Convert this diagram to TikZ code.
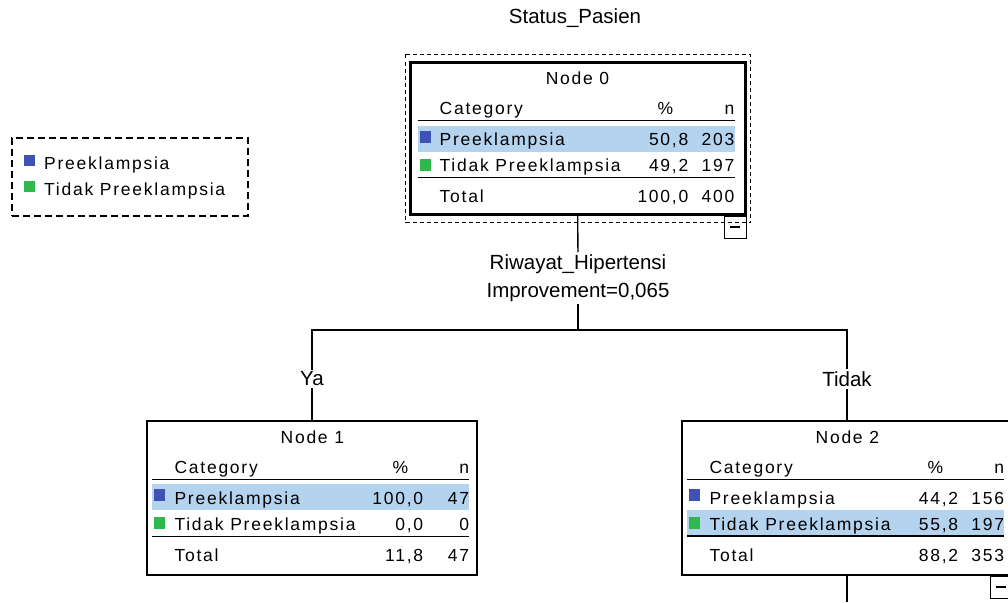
\documentclass[tikz,border=0pt]{standalone}
\usepackage{fontspec}
\setmainfont{Liberation Sans}
\newfontfamily\tabfont[LetterSpace=10]{Liberation Sans}
\usetikzlibrary{positioning}

\definecolor{preblue}{RGB}{63,81,181}
\definecolor{pregreen}{RGB}{45,185,75}
\definecolor{rowhl}{RGB}{180,211,238}

% one category table inside a tree box
\newcommand{\cattable}[9]{%
  \begin{scope}[shift={(#1.north west)}]
    \ifnum#9=1 \fill[rowhl] (6,64) rectangle (323,90);
    \else \fill[rowhl] (6,90) rectangle (323,116); \fi
    \node[celltext, anchor=base] (#1-title) at (166,23) {#2};
    \node[celltext, anchor=base west] (#1-cat) at (28,53) {Category};
    \node[celltext, anchor=base] (#1-pcthead) at (254,53) {\%};
    \node[celltext, anchor=base east] (#1-nhead) at (323,53) {n};
    \draw[rule] (6,59) -- (323,59);
    \fill[preblue] (8,69) rectangle (19,81);
    \node[celltext, anchor=base west] (#1-r1) at (28,84) {Preeklampsia};
    \node[celltext, anchor=base east] (#1-r1p) at (277,84) {#3};
    \node[celltext, anchor=base east] (#1-r1n) at (323,84) {#4};
    \fill[pregreen] (8,97) rectangle (19,109);
    \node[celltext, anchor=base west] (#1-r2) at (28,110) {Tidak Preeklampsia};
    \node[celltext, anchor=base east] (#1-r2p) at (277,110) {#5};
    \node[celltext, anchor=base east] (#1-r2n) at (323,110) {#6};
    \draw[rule] (6,116) -- (323,116);
    \node[celltext, anchor=base west] (#1-tot) at (28,141) {Total};
    \node[celltext, anchor=base east] (#1-totp) at (277,141) {#7};
    \node[celltext, anchor=base east] (#1-totn) at (323,141) {#8};
  \end{scope}}

\begin{document}
\begin{tikzpicture}[
    x=1pt, y=-1pt,
    treebox/.style={rectangle, draw, line width=1.3pt, minimum width=330pt, minimum height=154pt, inner sep=0pt},
    celltext/.style={inner sep=0pt, font=\tabfont\fontsize{17.5}{20}\selectfont},
    plaintext/.style={inner sep=2pt, font=\fontsize{20.5}{28}\selectfont},
    foldbox/.style={rectangle, draw, line width=1pt, minimum size=22pt, inner sep=0pt},
    rule/.style={line width=1.3pt},
    edge/.style={line width=1.3pt}
]
\useasboundingbox (0,0) rectangle (1008,602);
\clip (0,0) rectangle (1008,602);

% Title
\node[plaintext] (title) at (575,18) {Status\_Pasien};

% Legend
\node[rectangle, draw, line width=1.2pt, dash pattern=on 7pt off 4pt, minimum width=236pt, minimum height=78pt] (legend) at (130,177) {};
\fill[preblue] (24,155) rectangle (35,166);
\node[celltext, anchor=base west] (leg1) at (44,169) {Preeklampsia};
\fill[pregreen] (24,181) rectangle (35,192);
\node[celltext, anchor=base west] (leg2) at (44,195) {Tidak Preeklampsia};

% Root node
\node[treebox, line width=3pt, minimum width=335pt, minimum height=152pt] (node0) at (577.5,138) {};
\draw[line width=1.3pt, dash pattern=on 4pt off 3pt] ([shift={(-3,-6)}]node0.north west) rectangle ([shift={(4,7)}]node0.south east);
\node[foldbox, anchor=north east] (fold0) at (node0.south east) {\rule[0pt]{10pt}{1.5pt}};
\coordinate (node0in) at ([shift={(3,1)}]node0.north west);
\cattable{node0in}{Node 0}{50,8}{203}{49,2}{197}{100,0}{400}{1}

% Child nodes
\node[treebox] (node1) at (312,498) {};
\cattable{node1}{Node 1}{100,0}{47}{0,0}{0}{11,8}{47}{1}
\node[treebox] (node2) at (847,498) {};
\cattable{node2}{Node 2}{44,2}{156}{55,8}{197}{88,2}{353}{2}
\draw[line width=1.8pt] ([shift={(6,116)}]node2.north west) -- ([shift={(323,116)}]node2.north west);
\node[foldbox, anchor=north east] (fold2) at (node2.south east) {\rule[0pt]{10pt}{1.5pt}};

% Split and branches
\node[plaintext, align=center] (split0) at (578,278) {Riwayat\_Hipertensi\\Improvement=0,065};
\coordinate (fork) at (578,330);
\node[plaintext] (ya) at (312,379) {Ya};
\node[plaintext] (tidak) at (847,379) {Tidak};
\coordinate (down2) at (847,602);

\draw[edge] (node0) -- (split0);
\draw[edge] (split0) -- (fork);
\draw[edge] (fork) -| (ya);
\draw[edge] (fork) -| (tidak);
\draw[edge] (ya) -- (node1);
\draw[edge] (tidak) -- (node2);
\draw[edge] (node2) -- (down2);

\end{tikzpicture}
\end{document}
